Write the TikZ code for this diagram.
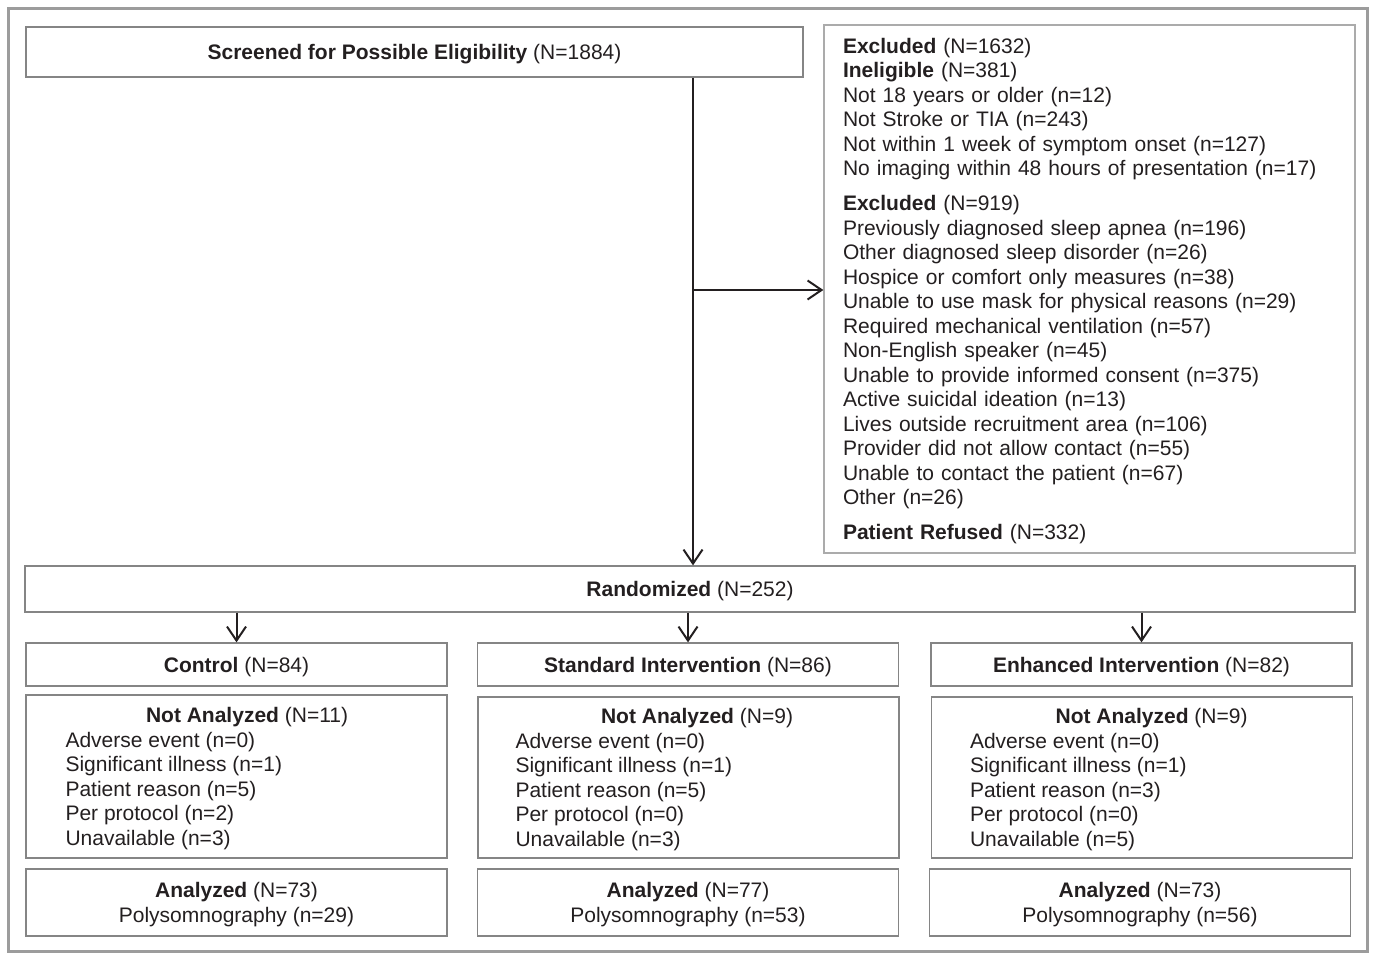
\documentclass[tikz,border=0pt]{standalone}
\usepackage{fontspec}
\setmainfont{Liberation Sans}
\usetikzlibrary{arrows.meta}
\definecolor{textc}{HTML}{231F20}
\definecolor{boxgray}{HTML}{858585}
\definecolor{lightgray}{HTML}{ABABAB}
\definecolor{framegray}{HTML}{9C9C9C}
\begin{document}
\begin{tikzpicture}[x=1pt,y=-1pt,
  box/.style={draw=boxgray, line width=1.3pt, rectangle, inner sep=0pt, minimum width=421pt},
  txt/.style={font=\fontsize{21}{24.5}\selectfont, text=textc, inner sep=0pt},
  one/.style={txt, text depth=0pt},
  multi/.style={txt, yshift=-2.3pt},
  arr/.style={-{Straight Barb[length=14pt,width=19pt,line width=2pt]}, line width=2pt, draw=textc}]
\useasboundingbox (0,0) rectangle (1373,953);
\draw[framegray, line width=3pt] (8.5,8.5) rectangle (1367.5,951);

\node[box, one, minimum width=777pt, minimum height=50pt] (scr) at (414.5,52) {\textbf{Screened for Possible Eligibility} (N=1884)};

\node[box, draw=lightgray, minimum width=531pt, minimum height=528pt] (excl) at (1089.5,289) {};
\node[multi, text width=493pt, align=left] (exclt) at (excl.center) {%
\textbf{Excluded} (N=1632)\\
\textbf{Ineligible} (N=381)\\
Not 18 years or older (n=12)\\
Not Stroke or TIA (n=243)\\
Not within 1 week of symptom onset (n=127)\\
No imaging within 48 hours of presentation (n=17)\\[10.5pt]
\textbf{Excluded} (N=919)\\
Previously diagnosed sleep apnea (n=196)\\
Other diagnosed sleep disorder (n=26)\\
Hospice or comfort only measures (n=38)\\
Unable to use mask for physical reasons (n=29)\\
Required mechanical ventilation (n=57)\\
Non-English speaker (n=45)\\
Unable to provide informed consent (n=375)\\
Active suicidal ideation (n=13)\\
Lives outside recruitment area (n=106)\\
Provider did not allow contact (n=55)\\
Unable to contact the patient (n=67)\\
Other (n=26)\\[10.5pt]
\textbf{Patient Refused} (N=332)};

\node[box, one, minimum width=1330pt, minimum height=46pt] (rand) at (690,589) {\textbf{Randomized} (N=252)};

% group boxes
\node[box, one, minimum height=43pt] (ctl) at (236.5,664.5) {\textbf{Control} (N=84)};
\node[box, one, minimum height=43pt] (std) at (688,664.5) {\textbf{Standard Intervention} (N=86)};
\node[box, one, minimum height=43pt] (enh) at (1141.5,664.5) {\textbf{Enhanced Intervention} (N=82)};

% not analyzed boxes
\node[box, minimum height=163pt] (nac) at (236.5,776.5) {};
\node[box, minimum height=161pt] (nas) at (688.5,777.5) {};
\node[box, minimum height=161pt] (nae) at (1142,777.5) {};
\node[multi, align=left, anchor=west] (nact) at ([xshift=40pt]nac.west) {%
\makebox[363pt]{\textbf{Not Analyzed} (N=11)}\\
Adverse event (n=0)\\
Significant illness (n=1)\\
Patient reason (n=5)\\
Per protocol (n=2)\\
Unavailable (n=3)};
\node[multi, align=left, anchor=west] (nast) at ([xshift=38pt]nas.west) {%
\makebox[363pt]{\textbf{Not Analyzed} (N=9)}\\
Adverse event (n=0)\\
Significant illness (n=1)\\
Patient reason (n=5)\\
Per protocol (n=0)\\
Unavailable (n=3)};
\node[multi, align=left, anchor=west] (naet) at ([xshift=39pt]nae.west) {%
\makebox[363pt]{\textbf{Not Analyzed} (N=9)}\\
Adverse event (n=0)\\
Significant illness (n=1)\\
Patient reason (n=3)\\
Per protocol (n=0)\\
Unavailable (n=5)};

% analyzed boxes
\node[box, minimum height=67pt] (anc) at (236.5,902.5) {};
\node[box, minimum height=67pt] (ans) at (688,902.5) {};
\node[box, minimum height=67pt] (ane) at (1140,902.5) {};
\node[multi, align=center] (anct) at (anc.center) {\textbf{Analyzed} (N=73)\\Polysomnography (n=29)};
\node[multi, align=center] (anst) at (ans.center) {\textbf{Analyzed} (N=77)\\Polysomnography (n=53)};
\node[multi, align=center] (anet) at (ane.center) {\textbf{Analyzed} (N=73)\\Polysomnography (n=56)};

% connectors
\coordinate (jx) at (693,290);
\draw[arr] (scr.south -| jx) -- (rand.north -| jx);
\draw[arr] (jx) -- (excl.west |- jx);
\draw[arr] (rand.south -| ctl.north) -- (ctl.north);
\draw[arr] (rand.south -| std.north) -- (std.north);
\draw[arr] (rand.south -| enh.north) -- (enh.north);
\end{tikzpicture}
\end{document}
